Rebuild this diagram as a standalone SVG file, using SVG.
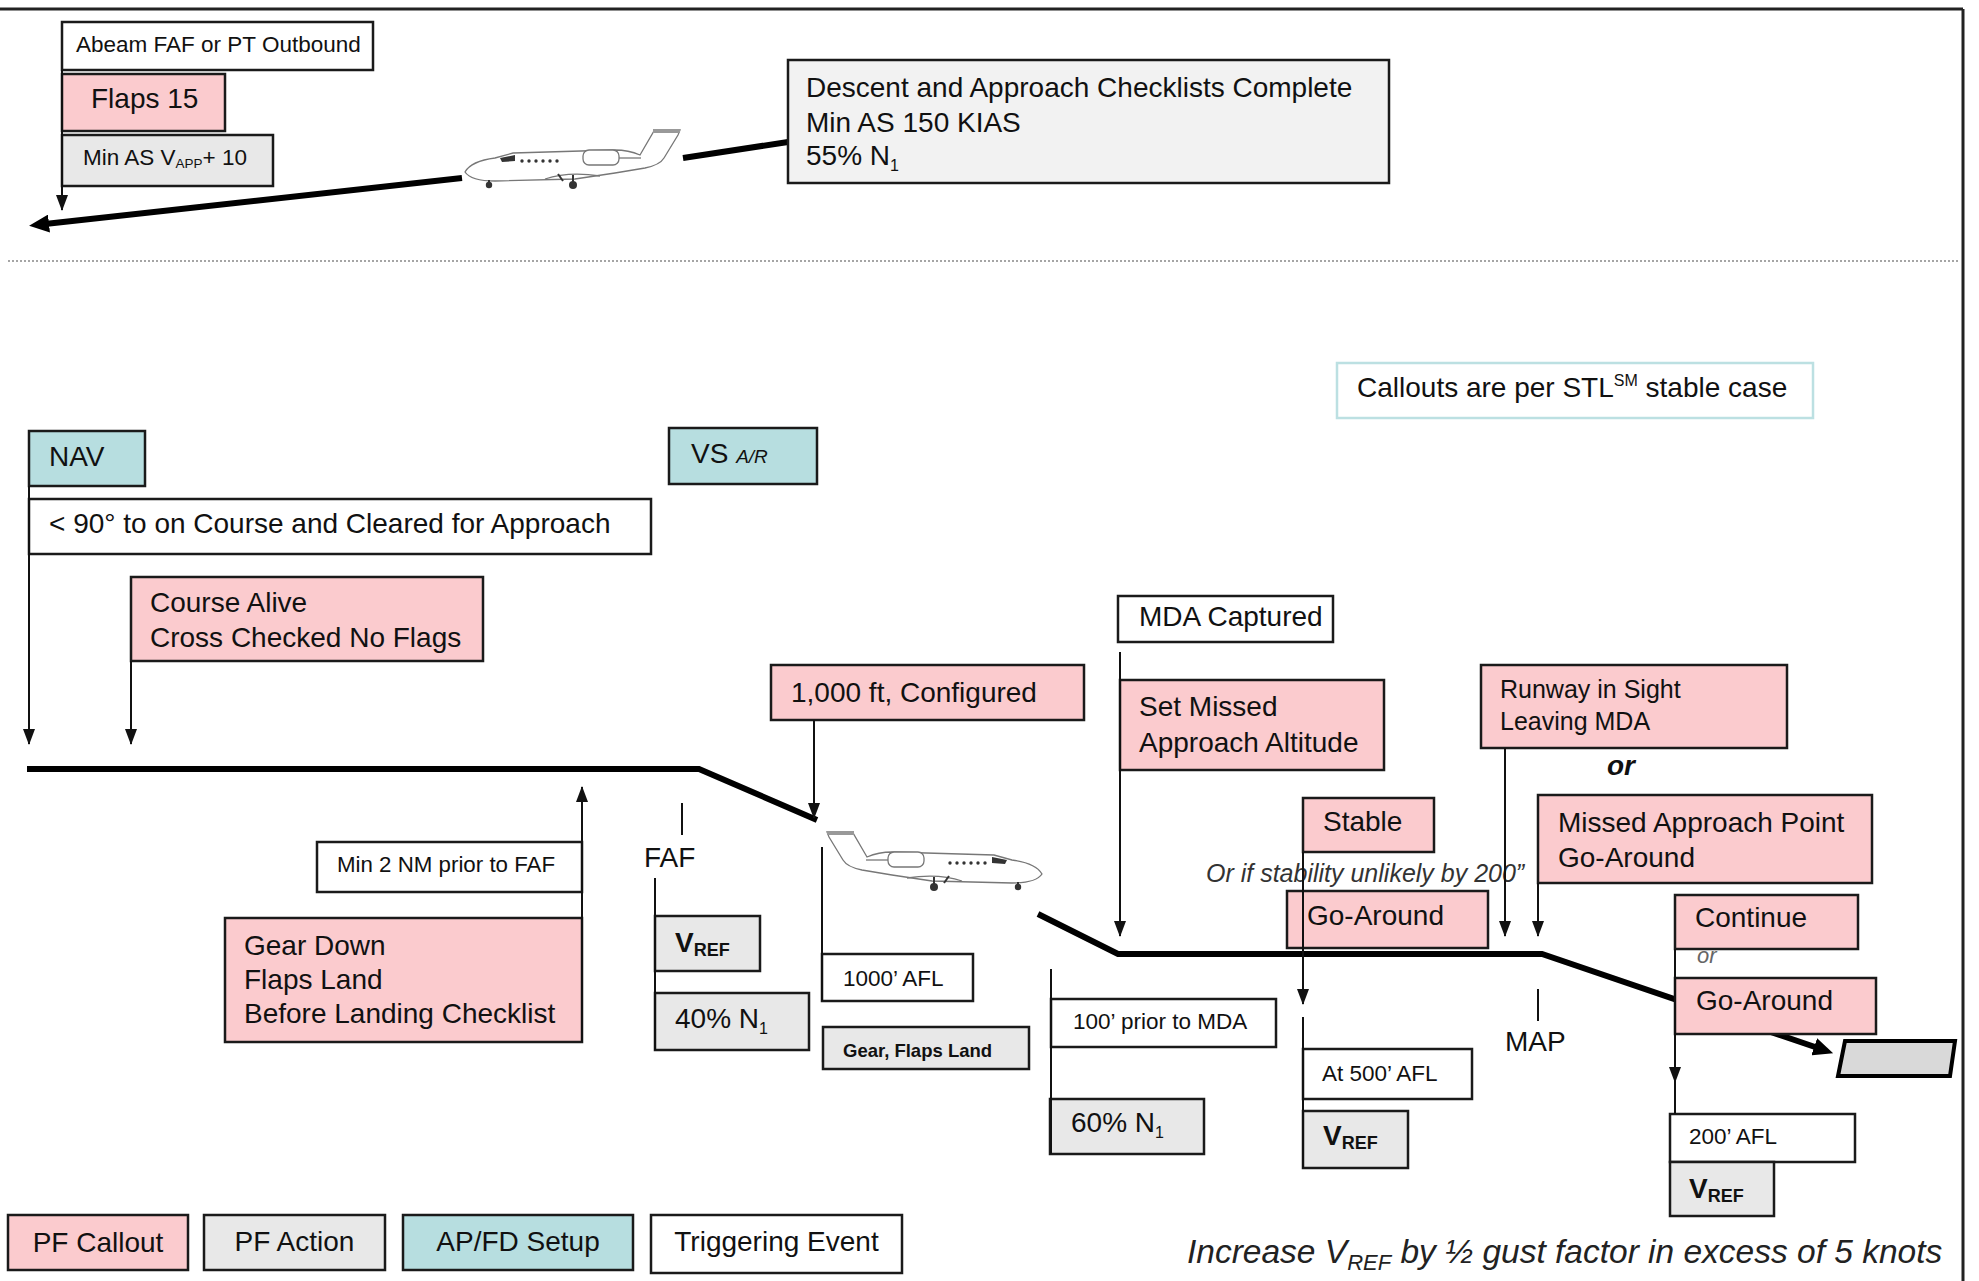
<svg xmlns="http://www.w3.org/2000/svg" width="1979" height="1281" viewBox="0 0 1979 1281">
<style>
.b{stroke:#1a1a1a;stroke-width:2.5}
.pk{fill:#FBCBCE}
.gy{fill:#E8E8E8}
.lg{fill:#F2F2F2}
.tl{fill:#B7DEE0}
.wh{fill:#fff}
text{font-family:"Liberation Sans",Arial,sans-serif;fill:#111}
.t27{font-size:28px}
.t25{font-size:25px}
.t22{font-size:22.5px}
.cn{stroke:#111;stroke-width:2;fill:none}
.thick{stroke:#000;stroke-width:6;fill:none}
.it{font-style:italic}
.pl{fill:#fff;stroke:#777;stroke-width:1.3}
</style>
<defs>
<marker id="arr" viewBox="0 0 16 12" refX="15" refY="6" markerWidth="16" markerHeight="12" markerUnits="userSpaceOnUse" orient="auto">
<path d="M0,0 L16,6 L0,12 z" fill="#111"/>
</marker>
<marker id="big" viewBox="0 0 20 18" refX="4" refY="9" markerWidth="20" markerHeight="18" markerUnits="userSpaceOnUse" orient="auto">
<path d="M0,0 L20,9 L0,18 z" fill="#000"/>
</marker>
<g id="plane">
<path class="pl" d="M0,44 C4,37 14,32 30,30 L48,25 L150,22 C160,22 168,24 175,27 L189,3 L215,2 L213,7 L199,30 C196,35 190,38 180,40 L150,45 L110,51 L30,53 C15,53 4,50 0,44 Z"/>
<rect x="188" y="1" width="27" height="4" fill="#999"/>
<rect class="pl" x="118" y="22" width="36" height="15" rx="6"/>
<path class="pl" d="M154,30 L176,30" fill="none"/>
<path d="M80,51 C95,46 115,45 135,48" fill="none" stroke="#777" stroke-width="1.3"/>
<path d="M35,30 L50,27 L50,33 L37,34 Z" fill="#333"/>
<g fill="#333"><circle cx="57" cy="33" r="1.7"/><circle cx="64" cy="33" r="1.7"/><circle cx="71" cy="33" r="1.7"/><circle cx="78" cy="33" r="1.7"/><circle cx="85" cy="33" r="1.7"/><circle cx="92" cy="33" r="1.7"/></g>
<line x1="108" y1="47" x2="108" y2="55" stroke="#333" stroke-width="2"/>
<circle cx="108" cy="57" r="4" fill="#333"/>
<line x1="24" y1="52" x2="24" y2="55" stroke="#333" stroke-width="2"/>
<circle cx="24" cy="57" r="3.2" fill="#333"/>
<line x1="98" y1="53" x2="93" y2="46" stroke="#333" stroke-width="2"/>
</g>
</defs>

<rect width="1979" height="1281" fill="#fff"/>
<g id="frame">
<line x1="0" y1="9" x2="1963" y2="9" stroke="#222" stroke-width="3"/>
<line x1="1963" y1="9" x2="1963" y2="1281" stroke="#222" stroke-width="3"/>
<line x1="8" y1="261" x2="1958" y2="261" stroke="#888" stroke-width="1.5" stroke-dasharray="2,2"/>
</g>

<g id="flightpath">
<line class="thick" x1="462" y1="178" x2="45" y2="224" marker-end="url(#big)"/>
<line class="thick" x1="683" y1="158" x2="788" y2="142"/>
<path class="thick" d="M27,769 L699,769 L817,820"/>
<path class="thick" d="M1038,914 L1118,954 L1542,954 L1818,1048" marker-end="url(#big)"/>
</g>

<g id="plane-top"><use href="#plane" transform="translate(465,128)"/></g>
<g id="plane-final"><use href="#plane" transform="translate(1042,830) scale(-1,1)"/></g>

<g id="abeam"><rect class="b wh" x="62" y="22" width="311" height="48"/><text x="76" y="52" font-size="22.5">Abeam FAF or PT Outbound</text></g>
<g id="flaps15"><rect class="b pk" x="62" y="74" width="163" height="57"/><text class="t27" x="91" y="108">Flaps 15</text></g>
<g id="minas"><rect class="b gy" x="62" y="135" width="211" height="51"/><text class="t22" x="83" y="165">Min AS V<tspan font-size="13.5" dy="3">APP</tspan><tspan dy="-3">+ 10</tspan></text></g>
<g id="descent"><rect class="b lg" x="788" y="60" width="601" height="123"/>
<text class="t27" x="806" y="97">Descent and Approach Checklists Complete</text>
<text class="t27" x="806" y="132">Min AS 150 KIAS</text>
<text class="t27" x="806" y="165">55% N<tspan font-size="16" dy="6">1</tspan></text></g>

<g id="callouts"><rect x="1337" y="363" width="476" height="55" fill="#fff" stroke="#BCE0E2" stroke-width="2.5"/><text class="t27" x="1357" y="397">Callouts are per STL<tspan font-size="16" dy="-11">SM</tspan><tspan dy="11"> stable case</tspan></text></g>

<g id="nav"><rect class="b tl" x="29" y="431" width="116" height="55"/><text class="t27" x="49" y="466">NAV</text></g>
<g id="vs"><rect class="b tl" x="669" y="428" width="148" height="56"/><text class="t27" x="691" y="463">VS <tspan class="it" font-size="19">A/R</tspan></text></g>
<g id="cleared"><rect class="b wh" x="29" y="499" width="622" height="55"/><text class="t27" x="49" y="533">&lt; 90° to on Course and Cleared for Approach</text></g>
<g id="coursealive"><rect class="b pk" x="131" y="577" width="352" height="84"/><text class="t27" x="150" y="612">Course Alive</text><text class="t27" x="150" y="647">Cross Checked No Flags</text></g>
<g id="configured"><rect class="b pk" x="771" y="665" width="313" height="55"/><text class="t27" x="791" y="702">1,000 ft, Configured</text></g>
<g id="min2nm"><rect class="b wh" x="317" y="842" width="265" height="50"/><text x="337" y="872" font-size="22.3">Min 2 NM prior to FAF</text></g>
<g id="geardown"><rect class="b pk" x="225" y="918" width="357" height="124"/>
<text class="t27" x="244" y="955">Gear Down</text><text class="t27" x="244" y="989">Flaps Land</text><text class="t27" x="244" y="1023">Before Landing Checklist</text></g>
<g id="faf"><text class="t27" x="644" y="867">FAF</text></g>
<g id="vref1"><rect class="b gy" x="655" y="916" width="105" height="55"/><text x="675" y="952" font-weight="bold"><tspan font-size="28">V</tspan><tspan font-size="18" dy="4">REF</tspan></text></g>
<g id="n1-40"><rect class="b gy" x="655" y="993" width="154" height="57"/><text class="t27" x="675" y="1028">40% N<tspan font-size="16" dy="6">1</tspan></text></g>
<g id="afl1000"><rect class="b wh" x="822" y="954" width="151" height="47"/><text class="t22" x="843" y="986">1000’ AFL</text></g>
<g id="gearflaps"><rect class="b gy" x="823" y="1027" width="206" height="42"/><text x="843" y="1057" font-size="18.5" font-weight="bold">Gear, Flaps Land</text></g>

<g id="mdacaptured"><rect class="b wh" x="1118" y="596" width="215" height="46"/><text class="t27" x="1139" y="626">MDA Captured</text></g>
<g id="setmissed"><rect class="b pk" x="1120" y="680" width="264" height="90"/><text class="t27" x="1139" y="716">Set Missed</text><text class="t27" x="1139" y="752">Approach Altitude</text></g>
<g id="stable"><rect class="b pk" x="1303" y="798" width="131" height="54"/><text class="t27" x="1323" y="831">Stable</text></g>
<g id="orif"><text class="it" x="1206" y="882" font-size="25" style="fill:#333">Or if stability unlikely by 200”</text></g>
<g id="goaround1"><rect class="b pk" x="1287" y="891" width="201" height="57"/><text class="t27" x="1307" y="925">Go-Around</text></g>
<g id="prior100"><rect class="b wh" x="1051" y="999" width="225" height="48"/><text class="t22" x="1073" y="1029">100’ prior to MDA</text></g>
<g id="n1-60"><rect class="b gy" x="1050" y="1099" width="154" height="55"/><text class="t27" x="1071" y="1132">60% N<tspan font-size="16" dy="6">1</tspan></text></g>
<g id="at500"><rect class="b wh" x="1303" y="1049" width="169" height="50"/><text class="t22" x="1322" y="1081">At 500’ AFL</text></g>
<g id="vref2"><rect class="b gy" x="1303" y="1111" width="105" height="57"/><text x="1323" y="1145" font-weight="bold"><tspan font-size="28">V</tspan><tspan font-size="18" dy="4">REF</tspan></text></g>
<g id="map"><text class="t27" x="1505" y="1051">MAP</text></g>
<g id="runwayinsight"><rect class="b pk" x="1481" y="665" width="306" height="83"/><text class="t25" x="1500" y="698">Runway in Sight</text><text class="t25" x="1500" y="730">Leaving MDA</text></g>
<g id="or1"><text x="1607" y="775" font-size="28" font-weight="bold" font-style="italic">or</text></g>
<g id="missedapproach"><rect class="b pk" x="1538" y="795" width="334" height="88"/><text class="t27" x="1558" y="832">Missed Approach Point</text><text class="t27" x="1558" y="867">Go-Around</text></g>
<g id="continue"><rect class="b pk" x="1675" y="895" width="183" height="54"/><text class="t27" x="1695" y="927">Continue</text></g>
<g id="or2"><text class="it" x="1697" y="963" font-size="22" style="fill:#666">or</text></g>
<g id="goaround2"><rect class="b pk" x="1675" y="978" width="201" height="56"/><text class="t27" x="1696" y="1010">Go-Around</text></g>
<g id="runway"><polygon points="1845,1041 1955,1041 1950,1076 1838,1076" fill="#D9D9D9" stroke="#000" stroke-width="4"/></g>
<g id="afl200"><rect class="b wh" x="1670" y="1114" width="185" height="48"/><text class="t22" x="1689" y="1144">200’ AFL</text></g>
<g id="vref3"><rect class="b gy" x="1670" y="1162" width="104" height="54"/><text x="1689" y="1198" font-weight="bold"><tspan font-size="28">V</tspan><tspan font-size="18" dy="4">REF</tspan></text></g>

<g id="connectors">
<line class="cn" x1="62" y1="70" x2="62" y2="210" marker-end="url(#arr)"/>
<line class="cn" x1="29" y1="486" x2="29" y2="744" marker-end="url(#arr)"/>
<line class="cn" x1="131" y1="661" x2="131" y2="744" marker-end="url(#arr)"/>
<line class="cn" x1="814" y1="720" x2="814" y2="818" marker-end="url(#arr)"/>
<line class="cn" x1="582" y1="1042" x2="582" y2="787" marker-end="url(#arr)"/>
<line class="cn" x1="682" y1="803" x2="682" y2="835"/>
<line class="cn" x1="655" y1="878" x2="655" y2="1050"/>
<line class="cn" x1="822" y1="847" x2="822" y2="1001"/>
<line class="cn" x1="1120" y1="652" x2="1120" y2="936" marker-end="url(#arr)"/>
<line class="cn" x1="1303" y1="852" x2="1303" y2="1004" marker-end="url(#arr)"/>
<line class="cn" x1="1303" y1="1017" x2="1303" y2="1168"/>
<line class="cn" x1="1051" y1="969" x2="1051" y2="1154"/>
<line class="cn" x1="1505" y1="748" x2="1505" y2="936" marker-end="url(#arr)"/>
<line class="cn" x1="1538" y1="883" x2="1538" y2="936" marker-end="url(#arr)"/>
<line class="cn" x1="1538" y1="989" x2="1538" y2="1021"/>
<line class="cn" x1="1675" y1="949" x2="1675" y2="1082" marker-end="url(#arr)"/>
<line class="cn" x1="1675" y1="1082" x2="1675" y2="1114"/>
</g>

<g id="legend">
<g id="lg-callout"><rect class="b pk" x="8" y="1215" width="180" height="55"/><text class="t27" x="98" y="1252" text-anchor="middle">PF Callout</text></g>
<g id="lg-action"><rect class="b gy" x="204" y="1215" width="181" height="55"/><text class="t27" x="294.5" y="1251" text-anchor="middle">PF Action</text></g>
<g id="lg-apfd"><rect class="b tl" x="403" y="1215" width="230" height="55"/><text class="t27" x="518" y="1251" text-anchor="middle">AP/FD Setup</text></g>
<g id="lg-trigger"><rect class="b wh" x="651" y="1215" width="251" height="58"/><text class="t27" x="776.5" y="1251" text-anchor="middle">Triggering Event</text></g>
</g>
<g id="note"><text class="it" x="1187" y="1263" font-size="33.5" style="fill:#222">Increase V<tspan font-size="22" dy="7">REF</tspan><tspan dy="-7"> by ½ gust factor in excess of 5 knots</tspan></text></g>
</svg>
